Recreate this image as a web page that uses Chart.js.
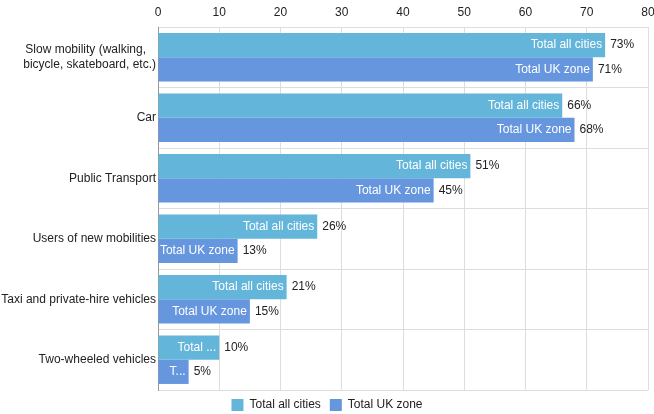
<!DOCTYPE html>
<html>
<head>
<meta charset="utf-8">
<script src="https://cdn.jsdelivr.net/npm/chart.js@4"></script>
<style>
  html, body { margin: 0; padding: 0; background: #fff; }
  #wrap { width: 654px; height: 414px; }
</style>
</head>
<body>
<div id="wrap"><canvas id="chart" width="654" height="414"></canvas></div>
<script>
// Data
const categories = [
  ['Slow mobility (walking,   ', 'bicycle, skateboard, etc.)'],
  'Car',
  'Public Transport',
  'Users of new mobilities',
  'Taxi and private-hire vehicles',
  'Two-wheeled vehicles',
];
const allCities = [73, 66, 51, 26, 21, 10];
const ukZone    = [71, 68, 45, 13, 15, 5];
const xTicks    = [0, 10, 20, 30, 40, 50, 60, 70, 80];

const FONT = 'Arial, "Liberation Sans", sans-serif';

// Draws series name inside the bar (truncated at a word) and the value after it.
const barLabels = {
  id: 'barLabels',
  afterDatasetsDraw(chart) {
    const ctx = chart.ctx;
    ctx.save();
    ctx.font = `12px ${FONT}`;
    ctx.textBaseline = 'middle';
    chart.data.datasets.forEach((ds, di) => {
      const meta = chart.getDatasetMeta(di);
      meta.data.forEach((bar, i) => {
        const w = bar.x - bar.base;
        let txt = ds.label;
        if (ctx.measureText(txt).width > w - 3) {
          const words = txt.split(' ');
          txt = '';
          for (let n = words.length - 1; n > 0; n--) {
            const t = words.slice(0, n).join(' ') + ' ...';
            if (ctx.measureText(t).width <= w - 10) { txt = t; break; }
          }
          if (!txt) {
            txt = ds.label[0] + '...';
            if (ctx.measureText(txt).width > w - 4) txt = '';
          }
        }
        ctx.fillStyle = '#ffffff';
        ctx.textAlign = 'right';
        if (txt) ctx.fillText(txt, bar.x - 3, bar.y);
        ctx.fillStyle = '#222222';
        ctx.textAlign = 'left';
        ctx.fillText(ds.data[i] + '%', bar.x + 5, bar.y);
      });
    });
    ctx.restore();
  }
};

new Chart(document.getElementById('chart').getContext('2d'), {
  type: 'bar',
  data: {
    labels: categories,
    datasets: [
      { label: 'Total all cities', data: allCities, backgroundColor: '#63b6da',
        categoryPercentage: 0.8, barPercentage: 1.0 },
      { label: 'Total UK zone', data: ukZone, backgroundColor: '#6696de',
        categoryPercentage: 0.8, barPercentage: 1.0 },
    ],
  },
  options: {
    indexAxis: 'y',
    responsive: false,
    animation: false,
    layout: { padding: { top: 0, right: 0, bottom: -7, left: 0 } },
    plugins: {
      legend: {
        position: 'bottom',
        labels: { color: '#222', boxWidth: 12, boxHeight: 12, padding: 9, font: { size: 12, family: FONT } },
      },
      tooltip: { enabled: false },
    },
    scales: {
      x: {
        position: 'top',
        min: 0, max: 80,
        afterBuildTicks: (axis) => { axis.ticks = xTicks.map(v => ({ value: v })); },
        ticks: { color: '#222', font: { size: 12, family: FONT }, padding: 7 },
        grid: { color: '#dddddd', drawTicks: false },
        border: { color: '#dddddd' },
        afterFit: (axis) => { axis.height = 27; axis.paddingRight = 6; axis.paddingLeft = 0; },
      },
      y: {
        ticks: { color: '#222', font: { size: 12, family: FONT }, padding: 2 },
        grid: { color: '#dddddd', drawTicks: false, offset: true },
        border: { color: '#999999' },
        afterFit: (axis) => { axis.width = 158; },
      },
    },
  },
  plugins: [barLabels],
});
</script>
</body>
</html>
